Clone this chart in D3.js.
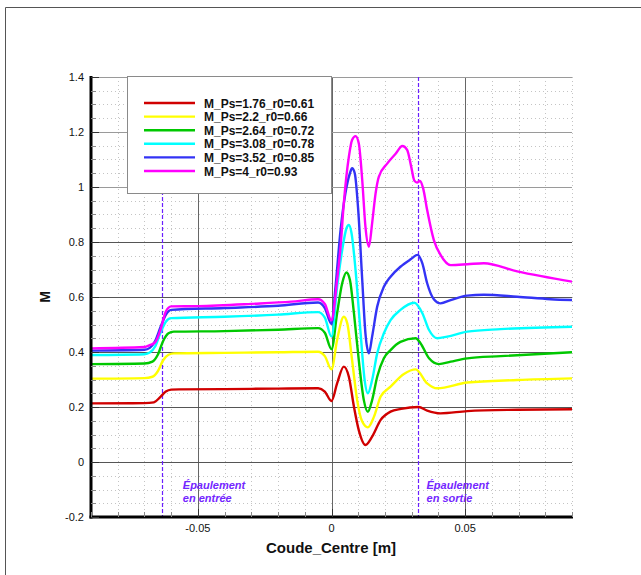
<!DOCTYPE html>
<html><head><meta charset="utf-8">
<script src="https://cdn.jsdelivr.net/npm/d3@7"></script>
<style>body{margin:0;background:#fff;}svg{display:block;font-family:"Liberation Sans",Arial,sans-serif;}</style>
</head><body>
<svg id="chart" width="641" height="575"></svg>
<script>
const seriesNames = ["M_Ps=1.76_r0=0.61","M_Ps=2.2_r0=0.66","M_Ps=2.64_r0=0.72","M_Ps=3.08_r0=0.78","M_Ps=3.52_r0=0.85","M_Ps=4_r0=0.93"];
const seriesColors = ["#d00000","#ffff00","#00c800","#00ffff","#3333f5","#ff00ff"];

const xRed = [-0.09,-0.07,-0.0665,-0.064,-0.062,-0.060,-0.057,-0.04,-0.02,-0.005,-0.0025,0,0.0021,0.0046,0.0065,0.0084,0.0102,0.0127,0.0152,0.0184,0.0221,0.026,0.0326,0.0358,0.0408,0.0508,0.0695,0.09];
const mRed = [0.213,0.214,0.217,0.237,0.256,0.263,0.264,0.265,0.267,0.268,0.256,0.222,0.286,0.347,0.31,0.201,0.116,0.062,0.092,0.153,0.183,0.193,0.200,0.187,0.177,0.185,0.190,0.192];

const xYellow = [-0.09,-0.07,-0.067,-0.065,-0.063,-0.061,-0.059,-0.04,-0.02,-0.005,-0.0025,0,0.0021,0.0046,0.0059,0.0077,0.0096,0.0115,0.0136,0.0159,0.0184,0.0221,0.0271,0.0315,0.0358,0.0396,0.0508,0.0695,0.09];
const mYellow = [0.303,0.305,0.31,0.33,0.37,0.39,0.395,0.397,0.399,0.401,0.385,0.337,0.444,0.528,0.504,0.371,0.225,0.147,0.126,0.165,0.238,0.274,0.32,0.337,0.286,0.268,0.289,0.298,0.304];

const xGreen = [-0.09,-0.07,-0.067,-0.065,-0.063,-0.061,-0.059,-0.04,-0.02,-0.005,-0.0025,0,0.0021,0.004,0.0056,0.0069,0.0084,0.0102,0.0121,0.0136,0.0152,0.0171,0.0196,0.0221,0.0258,0.0315,0.0333,0.0365,0.0402,0.0446,0.0508,0.0633,0.09];
const mGreen = [0.356,0.358,0.365,0.39,0.44,0.468,0.474,0.476,0.481,0.487,0.47,0.41,0.541,0.65,0.689,0.662,0.541,0.371,0.225,0.183,0.225,0.31,0.377,0.407,0.437,0.45,0.432,0.377,0.356,0.365,0.377,0.385,0.399];

const xCyan = [-0.09,-0.07,-0.068,-0.066,-0.064,-0.062,-0.060,-0.04,-0.02,-0.005,-0.0025,0,0.0021,0.004,0.0056,0.0065,0.0075,0.009,0.0109,0.0124,0.0136,0.0152,0.0171,0.0196,0.0221,0.0258,0.031,0.034,0.0365,0.0396,0.0433,0.0508,0.0633,0.09];
const mCyan = [0.389,0.392,0.398,0.42,0.47,0.51,0.523,0.528,0.536,0.545,0.525,0.456,0.637,0.771,0.85,0.862,0.832,0.698,0.468,0.298,0.25,0.298,0.395,0.468,0.516,0.553,0.579,0.541,0.48,0.45,0.456,0.474,0.483,0.492];

const xBlue = [-0.09,-0.07,-0.068,-0.066,-0.064,-0.062,-0.060,-0.04,-0.02,-0.005,-0.0025,0,0.0015,0.0034,0.0052,0.0069,0.0077,0.0087,0.01,0.0115,0.0127,0.014,0.0152,0.0171,0.0196,0.0221,0.0258,0.0296,0.0322,0.034,0.0358,0.0383,0.0408,0.0446,0.0508,0.057,0.0695,0.082,0.09];
const mBlue = [0.405,0.408,0.415,0.44,0.49,0.535,0.553,0.56,0.568,0.58,0.56,0.502,0.637,0.844,0.977,1.05,1.068,1.05,0.916,0.662,0.468,0.395,0.456,0.565,0.637,0.674,0.71,0.737,0.753,0.722,0.65,0.592,0.577,0.589,0.605,0.608,0.601,0.592,0.589];

const xMagenta = [-0.09,-0.07,-0.068,-0.066,-0.064,-0.062,-0.060,-0.05,-0.03,-0.015,-0.005,-0.0025,0,0.0021,0.0034,0.0046,0.0065,0.0077,0.009,0.0102,0.0115,0.0127,0.014,0.0152,0.0165,0.0177,0.0209,0.024,0.0265,0.0283,0.0298,0.031,0.032,0.0331,0.0343,0.0358,0.0383,0.0408,0.0446,0.0508,0.057,0.0695,0.09];
const mMagenta = [0.413,0.418,0.425,0.435,0.48,0.547,0.566,0.567,0.575,0.583,0.592,0.575,0.515,0.662,0.783,0.94,1.11,1.171,1.185,1.159,1.025,0.856,0.783,0.868,0.977,1.037,1.086,1.121,1.149,1.135,1.075,1.023,1.016,1.022,0.995,0.916,0.807,0.753,0.716,0.719,0.723,0.693,0.656];

const xTicks = [-0.05, 0, 0.05];
const xTickLabels = ["-0.05","0","0.05"];
const yTicks = [-0.2,0,0.2,0.4,0.6,0.8,1,1.2,1.4];
const yTickLabels = ["-0.2","0","0.2","0.4","0.6","0.8","1","1.2","1.4"];
const shoulderX = [-0.0635, 0.0322];
const shoulderLabels = [["Épaulement","en entrée"],["Épaulement","en sortie"]];

const xs = [xRed,xYellow,xGreen,xCyan,xBlue,xMagenta];
const ms = [mRed,mYellow,mGreen,mCyan,mBlue,mMagenta];

const svg = d3.select("#chart");
const L = 91, R = 572, T = 77, B = 517;
const x = d3.scaleLinear().domain([-0.09,0.09]).range([L,R]);
const y = d3.scaleLinear().domain([-0.2,1.4]).range([B,T]);

// outer frame
svg.append("line").attr("x1",5.5).attr("x2",641).attr("y1",7.5).attr("y2",7.5).attr("stroke","#555");
svg.append("line").attr("x1",5.5).attr("x2",5.5).attr("y1",7.5).attr("y2",575).attr("stroke","#555");

// minor grid
const xMinor = d3.range(-9,10).map(d=>d/100).filter(v=>Math.abs(v*100)%5!==0);
const yMinor = d3.range(-4,29).map(d=>d/20).filter(v=>Math.abs(Math.round(v*20))%4!==0);
const g = svg.append("g");
g.selectAll(".xm").data(xMinor.concat([0.09,-0.09])).enter().append("line")
  .attr("x1",d=>Math.round(x(d))+0.5).attr("x2",d=>Math.round(x(d))+0.5).attr("y1",T).attr("y2",B)
  .attr("stroke","#c4c4c4").attr("stroke-dasharray","1,3");
g.selectAll(".ym").data(yMinor).enter().append("line")
  .attr("x1",L).attr("x2",R).attr("y1",d=>Math.round(y(d))+0.5).attr("y2",d=>Math.round(y(d))+0.5)
  .attr("stroke","#c4c4c4").attr("stroke-dasharray","1,3");
// major grid
g.selectAll(".xM").data(xTicks).enter().append("line")
  .attr("x1",d=>Math.round(x(d))+0.5).attr("x2",d=>Math.round(x(d))+0.5).attr("y1",T).attr("y2",B)
  .attr("stroke","#666");
g.selectAll(".yM").data(yTicks.slice(1)).enter().append("line")
  .attr("x1",L).attr("x2",R).attr("y1",d=>Math.round(y(d))+0.5).attr("y2",d=>Math.round(y(d))+0.5)
  .attr("stroke",d=>d>=1?"#9a9a9a":"#555");

// dashed shoulder lines
svg.selectAll(".sh").data(shoulderX).enter().append("line")
  .attr("x1",d=>Math.round(x(d))+0.5).attr("x2",d=>Math.round(x(d))+0.5).attr("y1",T).attr("y2",B)
  .attr("stroke","#6a1fff").attr("stroke-width",1.2).attr("stroke-dasharray","4,2");

// shoulder annotations
const annOffset = [21, 9];
shoulderX.forEach((sx,i)=>{
  const ax = x(sx)+annOffset[i];
  const t = svg.append("text").attr("x",ax).attr("y",489)
    .attr("fill","#7326ff").attr("font-size",11).attr("font-weight","bold").attr("font-style","italic");
  t.append("tspan").attr("x",ax).attr("dy",0).text(shoulderLabels[i][0]);
  t.append("tspan").attr("x",ax).attr("dy",13).text(shoulderLabels[i][1]);
});

// curves
svg.append("clipPath").attr("id","pc").append("rect").attr("x",L).attr("y",T-5).attr("width",R-L).attr("height",B-T+5);
const line = d3.line().x(d=>x(d[0])).y(d=>y(d[1])).curve(d3.curveMonotoneX);
const cg = svg.append("g").attr("clip-path","url(#pc)");
xs.forEach((xa,i)=>{
  const pts = xa.map((v,j)=>[v, ms[i][j]]);
  cg.append("path").attr("d",line(pts)).attr("fill","none").attr("stroke",seriesColors[i]).attr("stroke-width",2.4).attr("stroke-linejoin","round");
});

// legend
const lg = svg.append("g");
lg.append("rect").attr("x",127.5).attr("y",76.5).attr("width",204).attr("height",117).attr("fill","#fff").attr("stroke","#8a8a8a");
seriesNames.forEach((n,i)=>{
  const yy = 103 + i*13.6;
  lg.append("line").attr("x1",144).attr("x2",195).attr("y1",yy).attr("y2",yy).attr("stroke",seriesColors[i]).attr("stroke-width",2.4);
  lg.append("text").attr("x",204).attr("y",yy+4.5).attr("font-size",12).attr("font-weight","bold").attr("fill","#111").text(n);
});

// axes lines
svg.append("line").attr("x1",L).attr("x2",L).attr("y1",T-1).attr("y2",B+1.5).attr("stroke","#000").attr("stroke-width",3);
svg.append("line").attr("x1",L-1.5).attr("x2",R+1).attr("y1",B).attr("y2",B).attr("stroke","#000").attr("stroke-width",3);

// ticks (inward)
svg.selectAll(".ytk").data(yTicks).enter().append("line")
  .attr("x1",L).attr("x2",L+8).attr("y1",d=>Math.round(y(d))+0.5).attr("y2",d=>Math.round(y(d))+0.5).attr("stroke","#333");
svg.selectAll(".ytm").data(yMinor).enter().append("line")
  .attr("x1",L).attr("x2",L+5).attr("y1",d=>Math.round(y(d))+0.5).attr("y2",d=>Math.round(y(d))+0.5).attr("stroke","#888");
svg.selectAll(".xtk").data(xTicks).enter().append("line")
  .attr("x1",d=>Math.round(x(d))+0.5).attr("x2",d=>Math.round(x(d))+0.5).attr("y1",B).attr("y2",B-8).attr("stroke","#333");
svg.selectAll(".xtm").data(xMinor).enter().append("line")
  .attr("x1",d=>Math.round(x(d))+0.5).attr("x2",d=>Math.round(x(d))+0.5).attr("y1",B).attr("y2",B-5).attr("stroke","#888");

// tick labels
svg.selectAll(".yl").data(yTicks).enter().append("text")
  .attr("x",84).attr("y",d=>y(d)+4).attr("text-anchor","end").attr("font-size",11).attr("fill","#111")
  .text((d,i)=>yTickLabels[i]);
svg.selectAll(".xl").data(xTicks).enter().append("text")
  .attr("x",d=>x(d)).attr("y",532).attr("text-anchor","middle").attr("font-size",11).attr("fill","#111")
  .text((d,i)=>xTickLabels[i]);

// axis titles
svg.append("text").attr("x",331).attr("y",553).attr("text-anchor","middle").attr("font-size",15).attr("font-weight","bold").attr("fill","#111").text("Coude_Centre [m]");
svg.append("text").attr("transform","translate(50,297) rotate(-90)").attr("text-anchor","middle").attr("font-size",14).attr("font-weight","bold").attr("fill","#111").text("M");
</script>
</body></html>
